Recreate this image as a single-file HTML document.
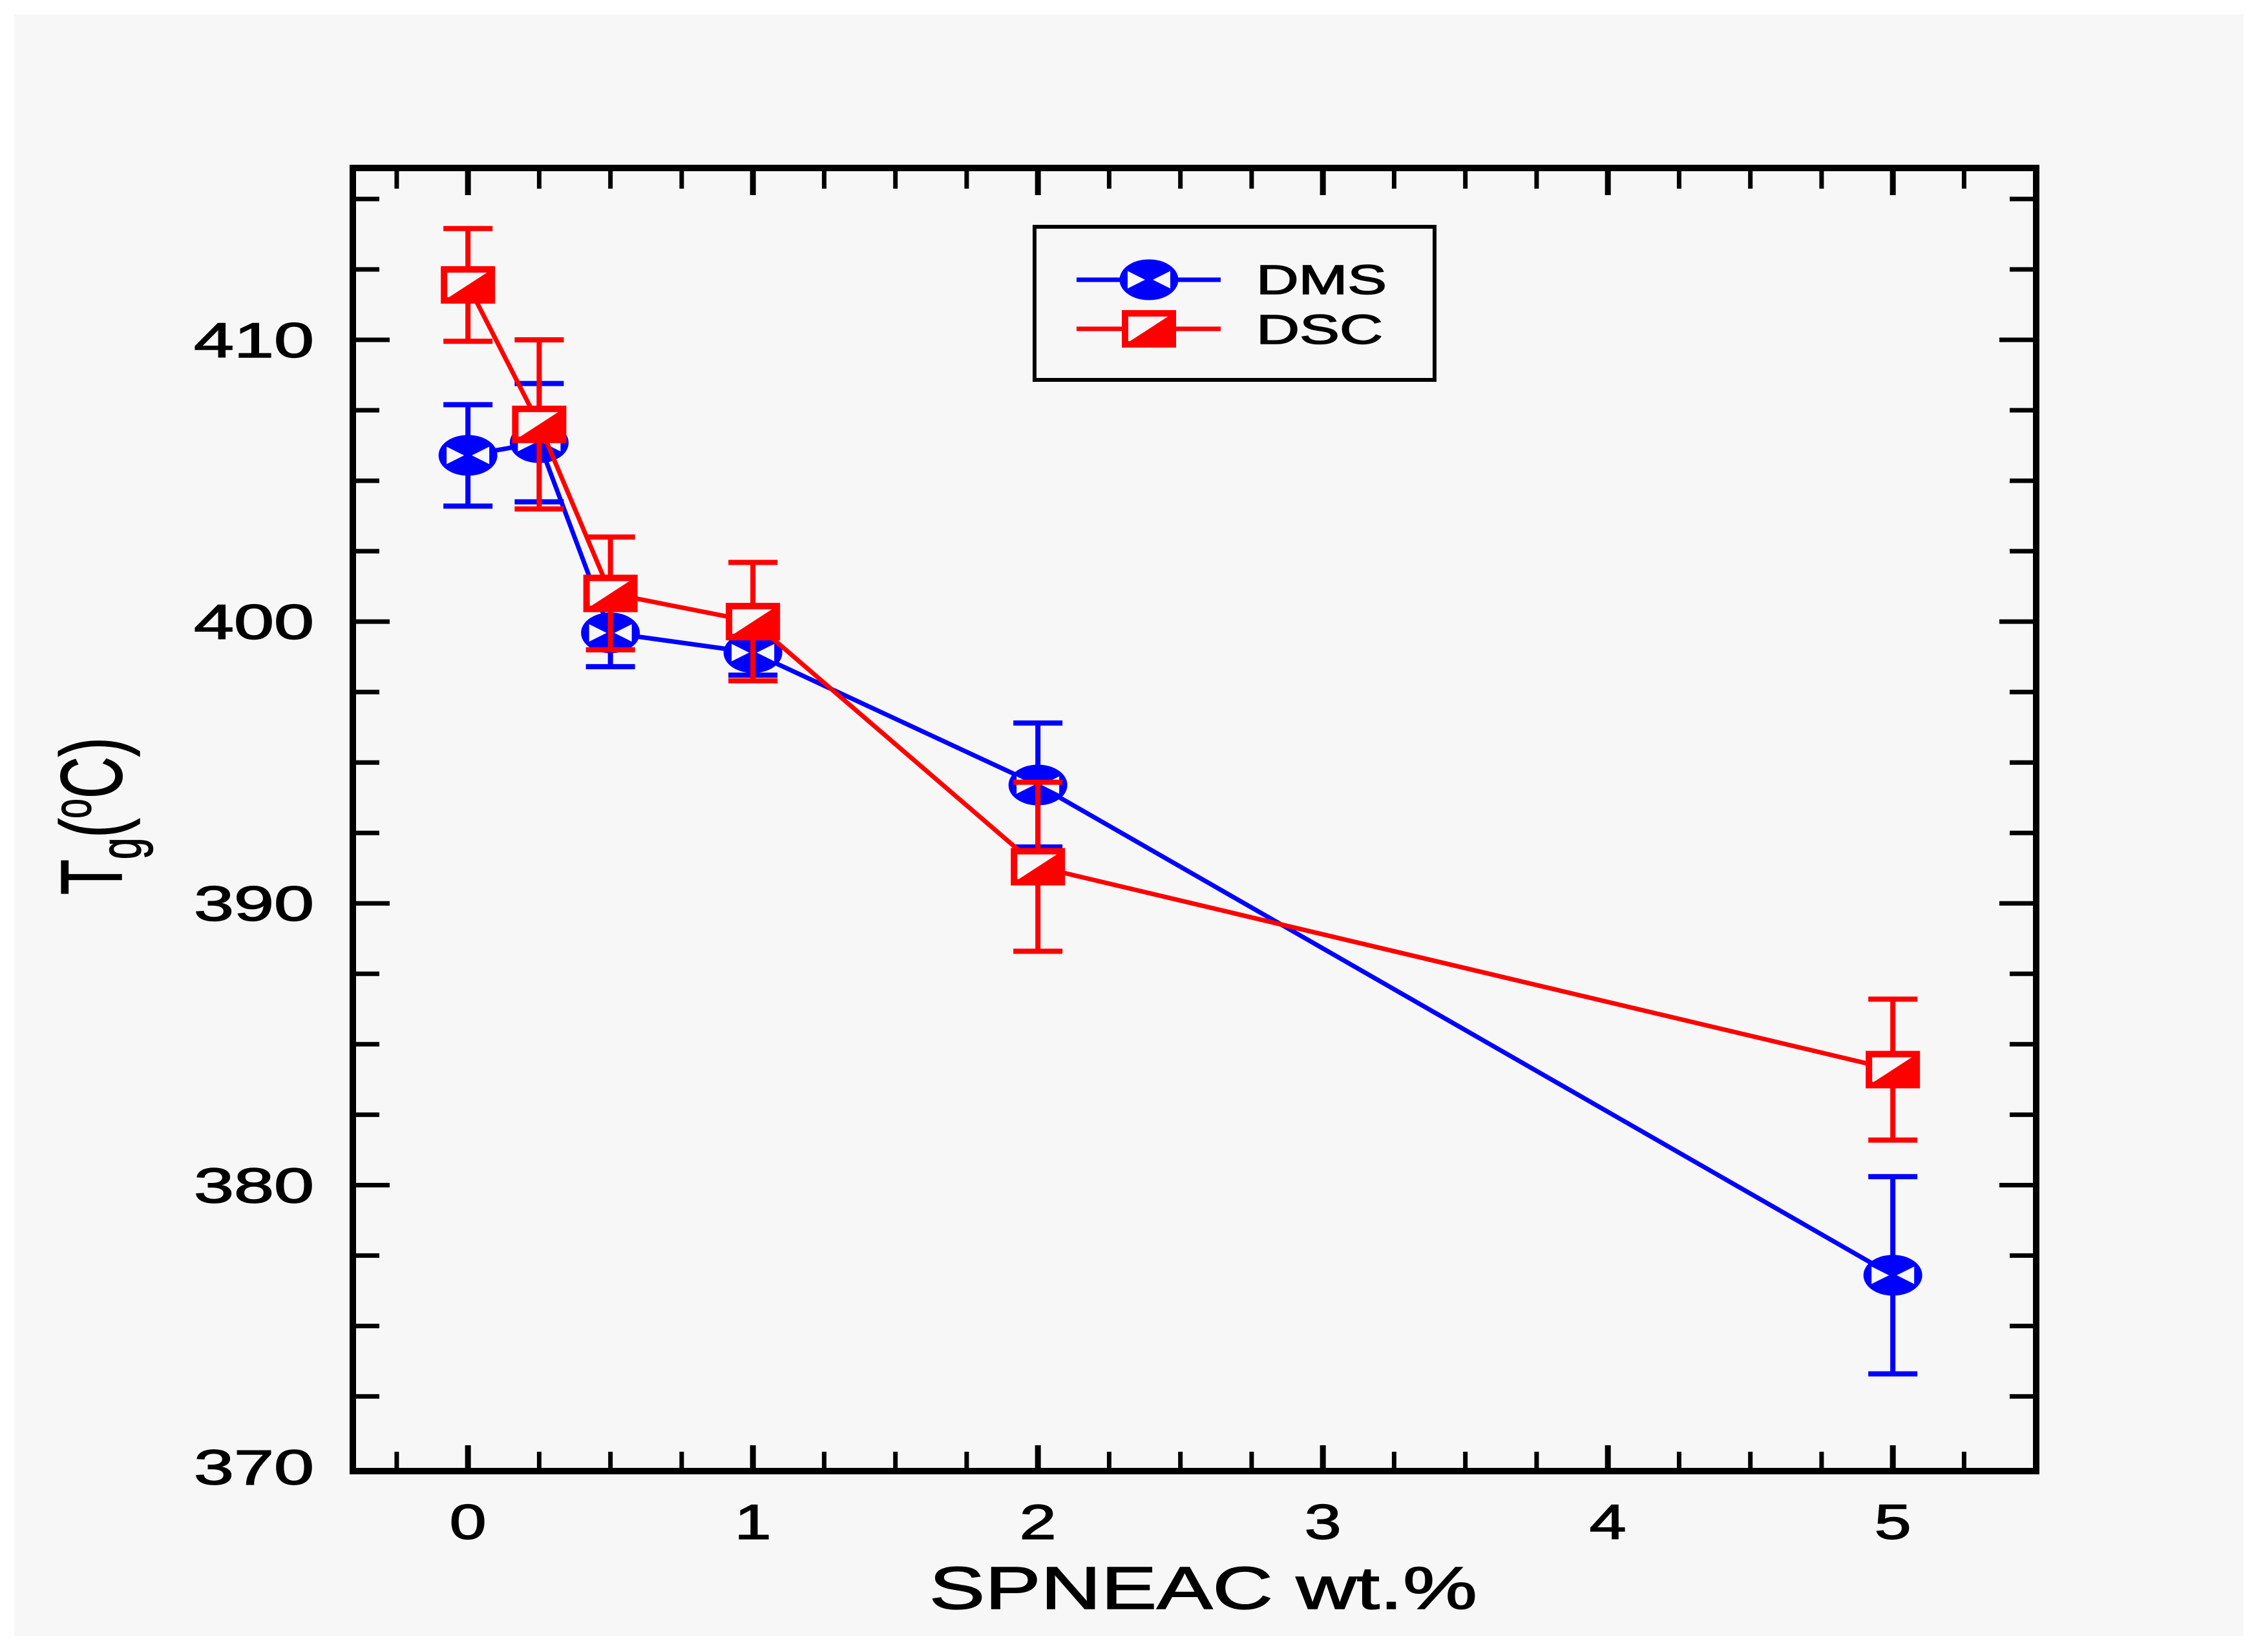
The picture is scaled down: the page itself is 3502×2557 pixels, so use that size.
<!DOCTYPE html>
<html><head><meta charset="utf-8"><style>
html,body{margin:0;padding:0;background:#fff;}
svg{display:block;font-family:"Liberation Sans",Arial,sans-serif;}
</style></head><body>
<svg id="chart" width="3502" height="2557" viewBox="0 0 3502 2557" xmlns="http://www.w3.org/2000/svg">
<rect x="0" y="0" width="3502" height="2557" fill="#ffffff"/>
<rect x="22" y="22" width="3450" height="2510" fill="#f7f7f7"/>
<g id="grid-layer"></g>
<g id="data-layer"></g>
<rect x="1601" y="351" width="619" height="237" fill="none" stroke="#000" stroke-width="6"/>
<g>
<line x1="1666" y1="433" x2="1889" y2="433" stroke="#0000ff" stroke-width="7"/>
<g id="leg-dms"></g>
<text x="1944" y="455" font-size="64" textLength="202" lengthAdjust="spacingAndGlyphs" fill="#000" stroke="#000" stroke-width="1.5">DMS</text>
</g>
<g>
<line x1="1666" y1="509" x2="1889" y2="509" stroke="#ff0000" stroke-width="7"/>
<g id="leg-dsc"></g>
<text x="1944" y="532" font-size="64" textLength="196" lengthAdjust="spacingAndGlyphs" fill="#000" stroke="#000" stroke-width="1.5">DSC</text>
</g>
<text x="1438" y="2490" font-size="93" textLength="848" lengthAdjust="spacingAndGlyphs" fill="#000" stroke="#000" stroke-width="1.5">SPNEAC wt.%</text>
<g transform="translate(188,1385) scale(1.5,1) rotate(-90)">
<text x="0" y="0" font-size="90" fill="#000" stroke="#000" stroke-width="1">T<tspan font-size="60" dy="20">g</tspan><tspan dy="-20">(</tspan><tspan font-size="55" dy="-32">o</tspan><tspan dy="32">C)</tspan></text>
</g>
</svg>
<script>
const categories = [0, 0.25, 0.5, 1, 2, 5];
const dmsValues = [405.9, 406.35, 399.6, 398.9, 394.2, 376.8];
const dmsErrors = [1.8, 2.1, 1.2, 0.8, 2.2, 3.5];
const dscValues = [411.95, 407.0, 401.0, 400.0, 391.3, 384.1];
const dscErrors = [2.0, 3.0, 2.0, 2.1, 3.0, 2.5];
const yTickLabels = [370, 380, 390, 400, 410];
const xTickLabels = [0, 1, 2, 3, 4, 5];

const NS = "http://www.w3.org/2000/svg";
const X0 = 546, X1 = 3151, Y0 = 260, Y1 = 2277;
const xMin = -0.404, xMax = 5.503, yMin = 369.85, yMax = 416.1;
function xs(v){ return X0 + (v - xMin) / (xMax - xMin) * (X1 - X0); }
function ys(v){ return Y1 - (v - yMin) / (yMax - yMin) * (Y1 - Y0); }
function mk(tag, attrs, parent){ const e = document.createElementNS(NS, tag); for (const k in attrs) e.setAttribute(k, attrs[k]); parent.appendChild(e); return e; }

const grid = document.getElementById('grid-layer');
for (let i = 1; ; i++) {
  const v = 370 + i * 2.5; if (v > yMax) break;
  const major = (Math.abs(v % 10) < 1e-6);
  const y = ys(v); const len = major ? 57 : 41;
  const t1 = mk('line', {x1: X0, y1: y, x2: X0 + len, y2: y, stroke: '#000', 'stroke-width': 7}, grid);
  
  
  const t2 = mk('line', {x1: X1, y1: y, x2: X1 - len, y2: y, stroke: '#000', 'stroke-width': 7}, grid);
  
  
}
yTickLabels.forEach(v => {
  const t = mk('text', {x: 486, y: ys(v) + 27, 'font-size': 76, 'text-anchor': 'end', textLength: 186, lengthAdjust: 'spacingAndGlyphs', fill: '#000', stroke: '#000', 'stroke-width': 1.5}, grid);
  t.textContent = v;
  
  
});
for (let i = -1; ; i++) {
  const v = i * 0.25; if (v > xMax) break; if (v < xMin) continue;
  const major = (Math.abs(v - Math.round(v)) < 1e-6);
  const x = xs(v);
  const b = mk('line', {x1: x, y1: Y1, x2: x, y2: Y1 - (major ? 40 : 30), stroke: '#000', 'stroke-width': major ? 9 : 7}, grid);
  
  
  const t = mk('line', {x1: x, y1: Y0, x2: x, y2: Y0 + (major ? 42 : 32), stroke: '#000', 'stroke-width': major ? 9 : 7}, grid);
  
  
}
xTickLabels.forEach(v => {
  const t = mk('text', {x: xs(v), y: 2382, 'font-size': 76, 'text-anchor': 'middle', textLength: 57, lengthAdjust: 'spacingAndGlyphs', fill: '#000', stroke: '#000', 'stroke-width': 1.5}, grid);
  t.textContent = v;
  
  
});
const frame = mk('path', {d: `M${X0} ${Y0}H${X1}V${Y1}H${X0}Z`, fill: 'none', stroke: '#000', 'stroke-width': 10}, grid);



function circleMarker(g, cx, cy){
  const rx = 41, ry = 27;
  mk('ellipse', {cx, cy, rx, ry, fill: '#0000ff', stroke: '#0000ff', 'stroke-width': 9}, g);
  mk('polygon', {points: `${cx-rx+8},${cy-ry*0.5} ${cx-rx+8},${cy+ry*0.5} ${cx-6},${cy}`, fill: '#f7f7f7'}, g);
  mk('polygon', {points: `${cx+rx-8},${cy-ry*0.5} ${cx+rx-8},${cy+ry*0.5} ${cx+6},${cy}`, fill: '#f7f7f7'}, g);
}
function squareMarker(g, cx, cy){
  const w = 74, h = 48;
  mk('rect', {x: cx - w/2, y: cy - h/2, width: w, height: h, fill: '#f7f7f7', stroke: '#ff0000', 'stroke-width': 10}, g);
  mk('polygon', {points: `${cx-w/2},${cy+h/2} ${cx+w/2},${cy-h/2} ${cx+w/2},${cy+h/2}`, fill: '#ff0000'}, g);
}

const data = document.getElementById('data-layer');
function drawSeries(vals, errs, color, name, markerFn){
  const g = mk('g', {}, data);
  
  
  const pts = categories.map((c, i) => `${xs(c)},${ys(vals[i])}`).join(' ');
  const pl = mk('polyline', {points: pts, fill: 'none', stroke: color, 'stroke-width': 7}, g);
  
  
  categories.forEach((c, i) => {
    const x = xs(c), yt = ys(vals[i] + errs[i]), yb = ys(vals[i] - errs[i]);
    const eb = mk('path', {d: `M${x} ${yt}V${yb}M${x-38} ${yt}H${x+38}M${x-38} ${yb}H${x+38}`, stroke: color, 'stroke-width': 8, fill: 'none'}, g);
    
    
  });
  categories.forEach((c, i) => {
    const mg = mk('g', {}, g);
    
    
    markerFn(mg, xs(c), ys(vals[i]));
  });
}
drawSeries(dmsValues, dmsErrors, '#0000ff', 'dms', circleMarker);
drawSeries(dscValues, dscErrors, '#ff0000', 'dsc', squareMarker);
circleMarker(document.getElementById('leg-dms'), 1778, 433);
squareMarker(document.getElementById('leg-dsc'), 1778, 509);
</script>
</body></html>
